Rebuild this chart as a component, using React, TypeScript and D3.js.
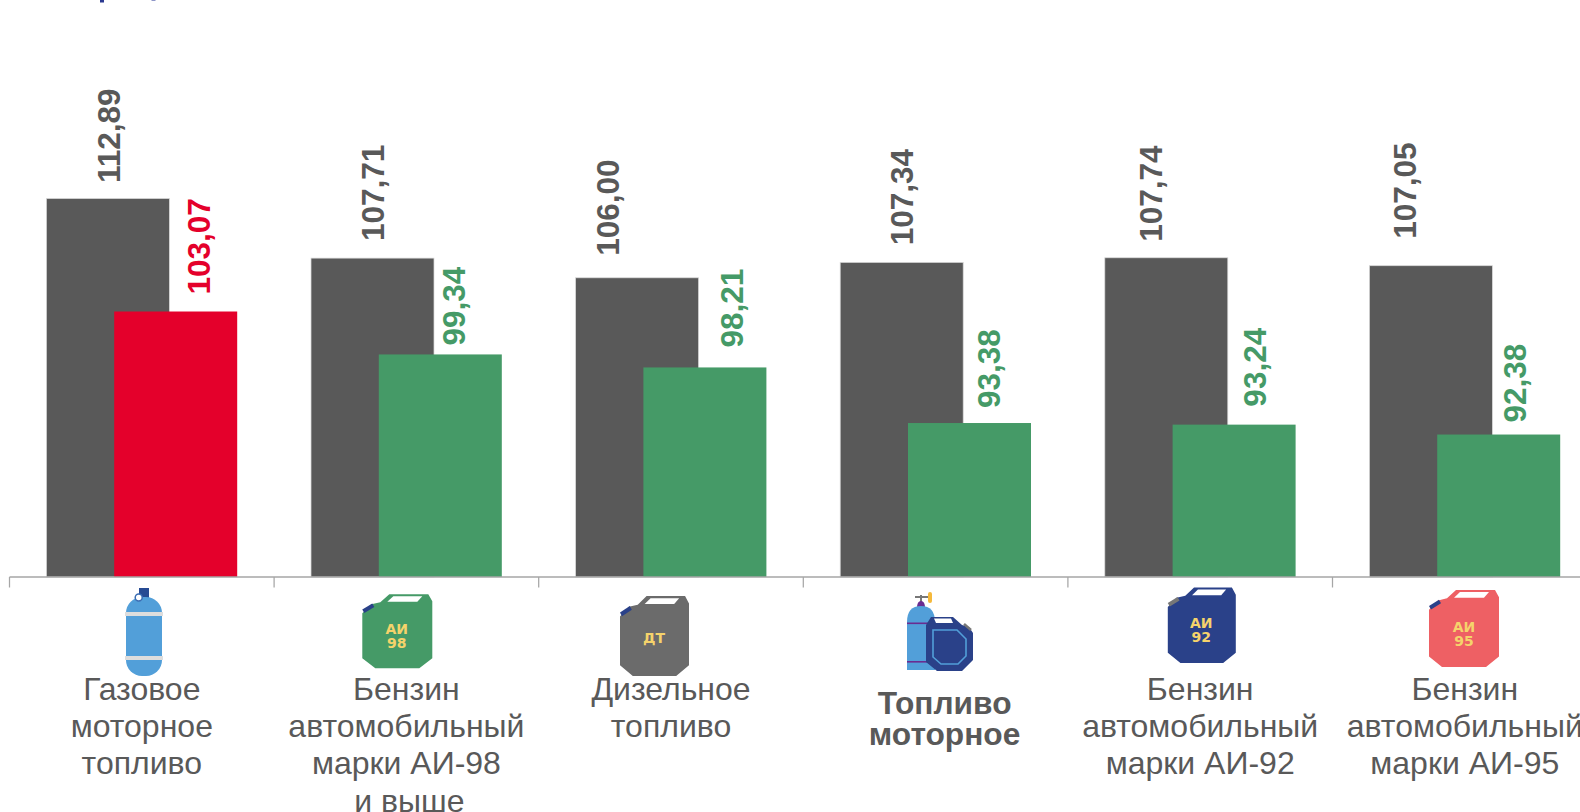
import * as d3 from 'd3';

const categories = ['gas', 'ai98', 'diesel', 'motor', 'ai92', 'ai95'];
const categoryLabels = [
  ['Газовое', 'моторное', 'топливо'],
  ['Бензин', 'автомобильный', 'марки АИ-98', 'и выше'],
  ['Дизельное', 'топливо'],
  ['Топливо', 'моторное'],
  ['Бензин', 'автомобильный', 'марки АИ-92'],
  ['Бензин', 'автомобильный', 'марки АИ-95'],
];
const previousValues = [112.89, 107.71, 106.0, 107.34, 107.74, 107.05];
const currentValues = [103.07, 99.34, 98.21, 93.38, 93.24, 92.38];

const GRAY = '#595959';
const GREEN = '#459A67';
const RED = '#E4002B';
const FONT = '"Liberation Sans", Arial, sans-serif';

// hand placed labels in the source, so the nudges are kept apart from the values
const prevLabelDx = [11.8, 11.8, -17.9, 11.3, -4.8, -14.9];
const prevLabelGap = [15.5, 17, 22, 17, 16, 27];
const currLabelDx = [34, 24.4, 38.5, 30.5, 32, 27.5];
const currLabelGap = [17, 9, 20, 15, 18, 12];

const baseY = 577;
const barW = 123;
const prevOffset = 36.9;
const currOffset = 104.7;

const x = d3.scaleBand<string>().domain(categories).range([9.5, 9.5 + 264.6 * 6]);
const y = d3.scaleLinear().domain([80, 112.89]).range([baseY, 198.5]);

const fmt = (v: number) => v.toFixed(2).replace('.', ',');

function Canister({ left, top, w, h, fill, spout, lines, textX, textY }: {
  left: number; top: number; w: number; h: number; fill: string; spout: string;
  lines: string[]; textX: number; textY: number;
}) {
  return (
    <g>
      <g transform={`translate(${left},${top}) scale(${w / 70},${h / 74})`}>
        <path d="M0,19 L9,10 L18,8 L27,0 L66,0 L70,7 L70,64 L57,74 L13,74 L0,64 Z" fill={fill} />
        <path d="M31,2 L60,2 L55,7.5 L25,7.5 Z" fill="#fff" />
        <line x1={1} y1={17} x2={11} y2={11} stroke={spout} strokeWidth={4} />
      </g>
      {lines.map((t, i) => (
        <text key={t} x={left + textX} y={top + textY + i * 14} textAnchor="middle"
          fontFamily='"DejaVu Sans", sans-serif' fontWeight={700} fontSize={14} fill="#F5D36B">{t}</text>
      ))}
    </g>
  );
}

function GasIcon() {
  return (
    <g>
      <rect x={139} y={588} width={10} height={10} fill="#264A93" />
      <rect x={126} y={597} width={36} height={79} rx={16} fill="#529FD9" />
      <rect x={125} y={612} width={38} height={4} fill="#DDDDDD" />
      <rect x={125} y={656} width={38} height={4} fill="#DDDDDD" />
      <circle cx={138.7} cy={597.5} r={3.5} fill="#fff" stroke="#3B6DB3" strokeWidth={1.5} />
    </g>
  );
}

function MotorIcon() {
  return (
    <g>
      <line x1={921} y1={604} x2={921} y2={595} stroke="#777" strokeWidth={2} />
      <line x1={915} y1={597} x2={930} y2={597} stroke="#777" strokeWidth={2} />
      <rect x={928} y={592} width={4} height={11} rx={2} fill="#F5B93B" />
      <path d="M917,608 Q917,601 921,601 Q925,601 925,608 Z" fill="#6A2C91" />
      <path d="M907,670 L907,622 Q907,606 921,606 Q935,606 935,622 L935,670 Z" fill="#529FD9" />
      <rect x={907} y={622.5} width={28} height={1.6} fill="#6A2C91" />
      <rect x={907} y={661} width={28} height={1.6} fill="#6A2C91" />
      <path d="M926,625 L931,617 L953,617 L962,625 L969,627 L973,633 L973,660 L962,671 L937,671 L926,662 Z" fill="#2A4189" />
      <path d="M934,618.5 L951,618.5 L953,623 L936,623 Z" fill="#fff" />
      <path d="M933,630 L957,630 L966,639 L966,656 L958,664 L941,664 L933,657 Z" fill="none" stroke="#529FD9" strokeWidth={1.6} />
      <line x1={964} y1={624} x2={971} y2={630} stroke="#777" strokeWidth={2.5} />
    </g>
  );
}

export default function App() {
  const step = x.bandwidth();
  const ticks = [...categories.map((c) => x(c)!), x(categories[5])! + step];
  return (
    <svg width={1580} height={812} viewBox="0 0 1580 812"
      style={{ position: 'fixed', left: 0, top: 0, background: '#fff' }}>
      {/* clipped remains of the title above the crop */}
      <rect x={100} y={0} width={4} height={2.5} fill="#2B3990" />
      <rect x={151.5} y={0} width={4} height={1} fill="#8F97C8" />

      {categories.map((c, i) => {
        const bx = x(c)!;
        return (
          <g key={c}>
            <rect x={bx + prevOffset} y={y(previousValues[i])} width={barW}
              height={baseY - y(previousValues[i])} fill={GRAY} stroke="#D9D9D9" strokeWidth={0.75} />
            <rect x={bx + currOffset} y={y(currentValues[i])} width={barW}
              height={baseY - y(currentValues[i])} fill={i === 0 ? RED : GREEN} />
          </g>
        );
      })}

      {categories.map((c, i) => {
        const bx = x(c)!;
        const px = bx + prevOffset + barW / 2 + prevLabelDx[i];
        const py = y(previousValues[i]) - prevLabelGap[i];
        const cx = bx + currOffset + barW / 2 + currLabelDx[i];
        const cy = y(currentValues[i]) - currLabelGap[i];
        return (
          <g key={c} fontFamily={FONT} fontWeight={700} fontSize={31.5}>
            <text transform={`translate(${px},${py}) rotate(-90)`} fill={GRAY}>{fmt(previousValues[i])}</text>
            <text transform={`translate(${cx},${cy}) rotate(-90)`} fill={i === 0 ? RED : GREEN}>{fmt(currentValues[i])}</text>
          </g>
        );
      })}

      <line x1={ticks[0]} x2={1580} y1={baseY} y2={baseY} stroke="#A6A6A6" strokeWidth={1.5} />
      {ticks.map((t) => (
        <line key={t} x1={t} x2={t} y1={baseY} y2={587.5} stroke="#A6A6A6" strokeWidth={1.25} />
      ))}

      <GasIcon />
      <Canister left={362.3} top={594.3} w={70} h={74} fill={GREEN} spout="#2A4189" lines={['АИ', '98']} textX={34.5} textY={40} />
      <Canister left={620} top={596} w={69} h={80} fill="#6B6B6B" spout="#2A4189" lines={['ДТ']} textX={34} textY={47} />
      <MotorIcon />
      <Canister left={1167.8} top={587.5} w={68} h={75.5} fill="#2A4189" spout="#777" lines={['АИ', '92']} textX={33.5} textY={40} />
      <Canister left={1429} top={590} w={70} h={77} fill="#EE6064" spout="#2A4189" lines={['АИ', '95']} textX={35} textY={42} />

      {categories.map((c, i) => {
        const bold = c === 'motor';
        const cx = x(c)! + step / 2 + (bold ? 9 : 0);
        return (
          <text key={c} textAnchor="middle" fontFamily={FONT} fontSize={bold ? 31.7 : 32} fill={GRAY} fontWeight={bold ? 700 : 400}>
            {categoryLabels[i].map((t, k) => (
              <tspan key={t} x={k === 3 ? cx + 3 : cx} y={bold ? 714 + k * 30.5 : 699.6 + k * 37.3}>{t}</tspan>
            ))}
          </text>
        );
      })}
    </svg>
  );
}
